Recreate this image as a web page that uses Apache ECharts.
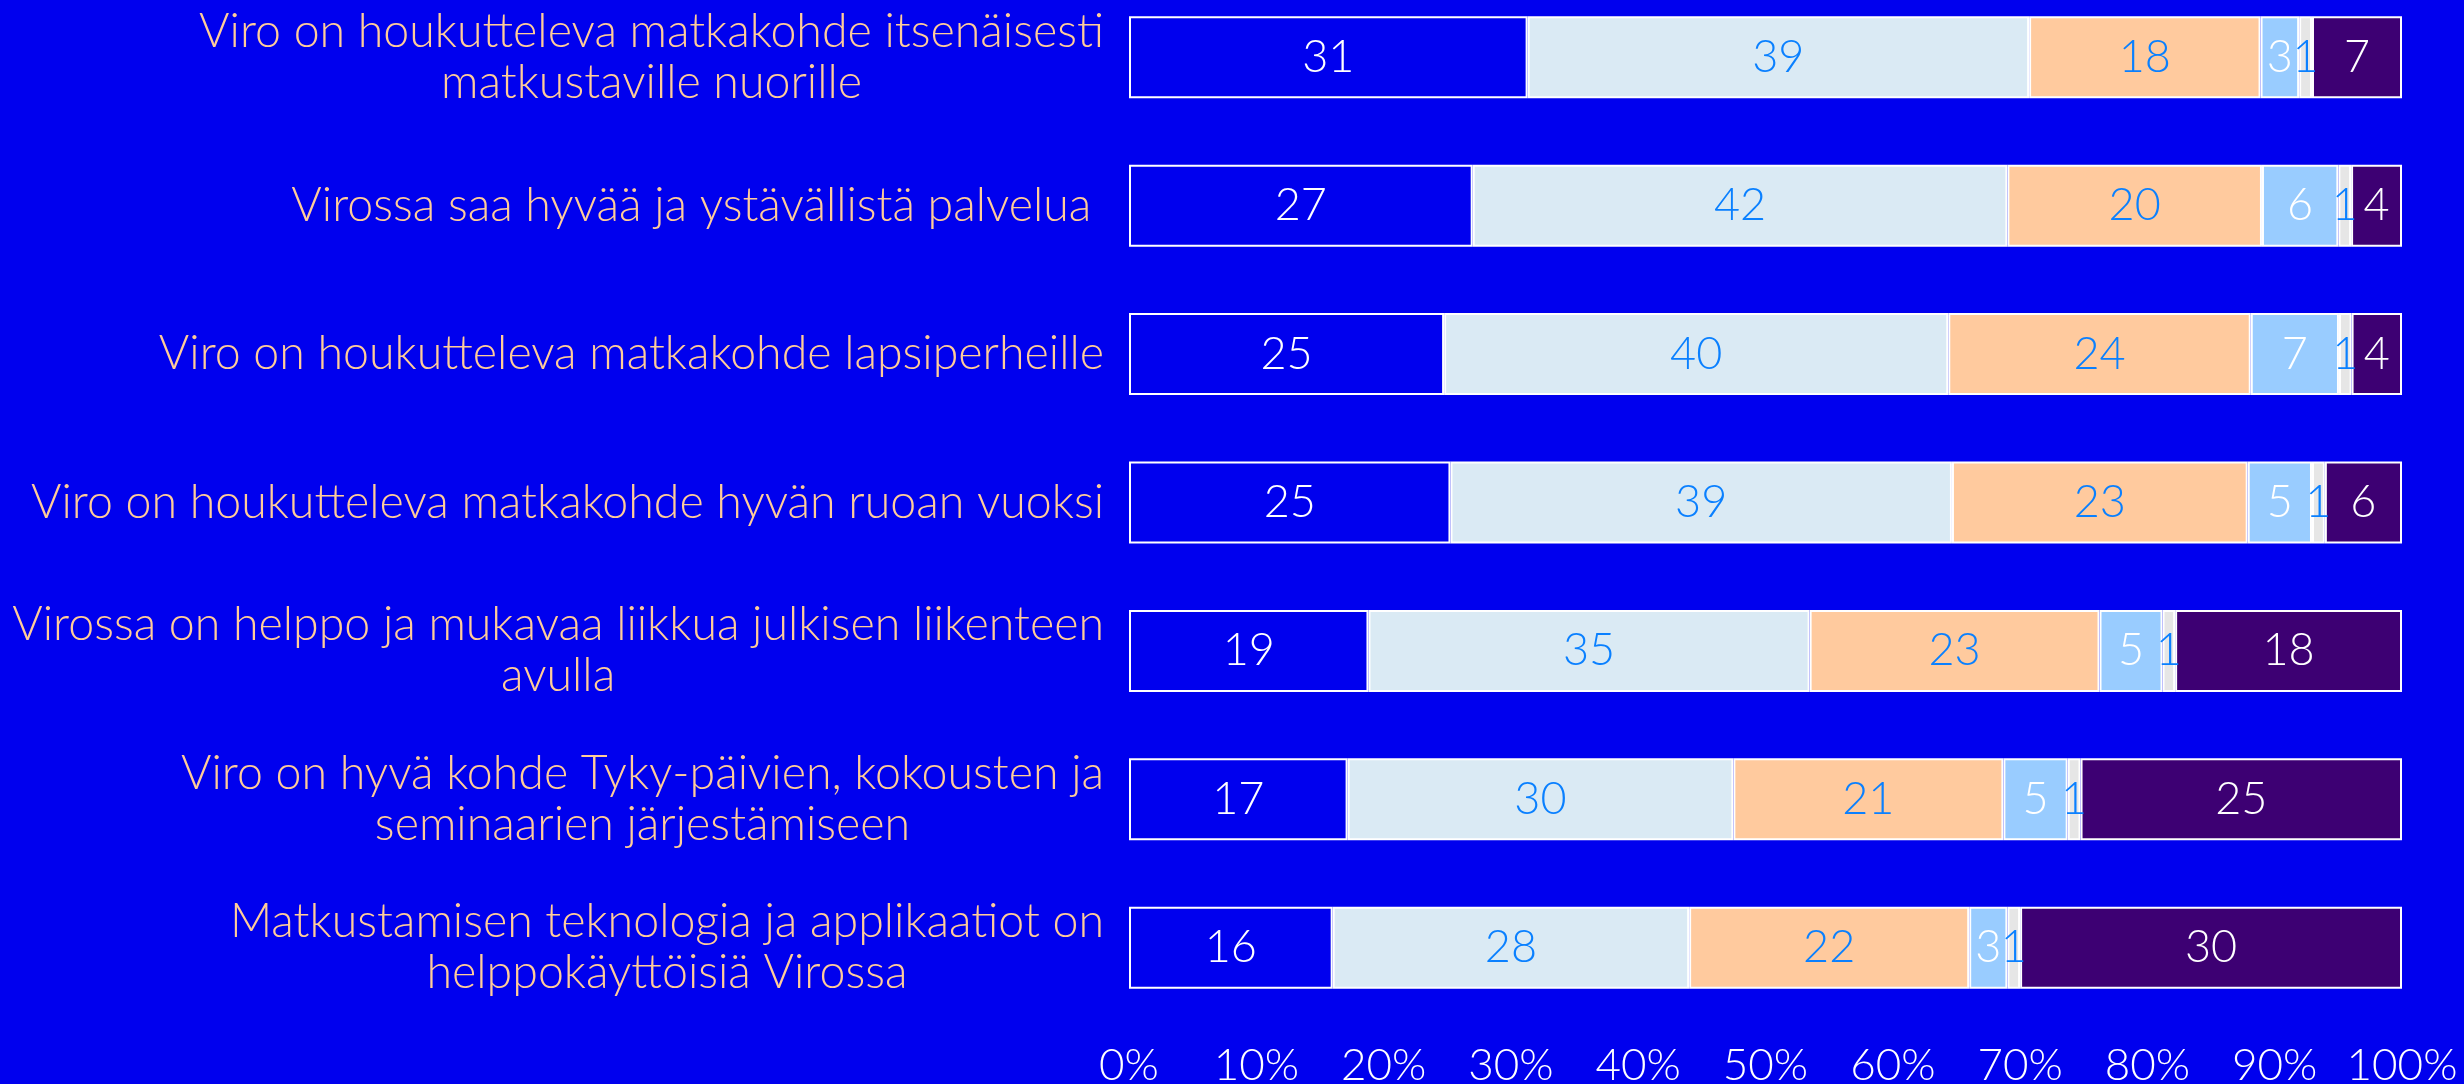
<!DOCTYPE html>
<html>
<head>
<meta charset="utf-8">
<script src="https://cdn.jsdelivr.net/npm/echarts@6/dist/echarts.min.js"></script>
<style>
  html, body { margin: 0; padding: 0; background: #0000EE; }
  #chart { width: 2464px; height: 1084px; }
</style>
</head>
<body>
<div id="chart"></div>
<script>
const categories = [
  "Viro on houkutteleva matkakohde itsenäisesti\nmatkustaville nuorille",
  "Virossa saa hyvää ja ystävällistä palvelua ",
  "Viro on houkutteleva matkakohde lapsiperheille",
  "Viro on houkutteleva matkakohde hyvän ruoan vuoksi",
  "Virossa on helppo ja mukavaa liikkua julkisen liikenteen\navulla",
  "Viro on hyvä kohde Tyky-päivien, kokousten ja\nseminaarien järjestämiseen",
  "Matkustamisen teknologia ja applikaatiot on\nhelppokäyttöisiä Virossa"
];
const series1 = [31, 27, 25, 25, 19, 17, 16];
const series2 = [39, 42, 40, 39, 35, 30, 28];
const series3 = [18, 20, 24, 23, 23, 21, 22];
const series4 = [3, 6, 7, 5, 5, 5, 3];
const series5 = [1, 1, 1, 1, 1, 1, 1];
const series6 = [7, 4, 4, 6, 18, 25, 30];
const xTickLabels = ["0%", "10%", "20%", "30%", "40%", "50%", "60%", "70%", "80%", "90%", "100%"];

const allSeries = [series1, series2, series3, series4, series5, series6];
const colors = ["#0000EE", "#DAEAF4", "#FFCA9E", "#99CCFF", "#E6E6E6", "#3D0073"];
const labelColors = ["#FFFFFF", "#0A80FF", "#0A80FF", "#FFFFFF", "#0A80FF", "#FFFFFF"];
const totals = categories.map((c, i) => allSeries.reduce((s, arr) => s + arr[i], 0));

const FONT = "Lato, 'Open Sans', sans-serif";

const chart = echarts.init(document.getElementById('chart'), null, { renderer: 'canvas' });
chart.setOption({
  backgroundColor: "#0000EE",
  animation: false,
  grid: { left: 1129, right: 62, top: -17, height: 1039, containLabel: false, outerBoundsMode: 'none' },
  xAxis: {
    type: 'value',
    min: 0, max: 100, interval: 10,
    axisLine: { show: false },
    axisTick: { show: false },
    splitLine: { show: false },
    axisLabel: {
      color: "#FFFFFF",
      fontFamily: FONT,
      fontWeight: 300,
      fontSize: 44,
      margin: 22,
      formatter: (v) => xTickLabels[Math.round(v / 10)]
    }
  },
  yAxis: {
    type: 'category',
    inverse: true,
    data: categories,
    axisLine: { show: false },
    axisTick: { show: false },
    splitLine: { show: false },
    axisLabel: {
      margin: 25,
      color: "#FFCC99",
      fontFamily: FONT,
      fontWeight: 300,
      fontSize: 46.5,
      lineHeight: 51,
      formatter: (v) => v.split('\n').map(l => '{c|' + l + '}').join('\n'),
      rich: {
        c: { align: 'center', color: "#FFCC99", fontFamily: FONT, fontWeight: 300, fontSize: 46.5, lineHeight: 51 }
      }
    }
  },
  series: allSeries.map((arr, si) => ({
    type: 'bar',
    stack: 'total',
    barWidth: 82,
    itemStyle: { color: colors[si], borderColor: "#FFFFFF", borderWidth: 2 },
    label: {
      show: true,
      position: 'inside',
      color: labelColors[si],
      fontFamily: FONT,
      fontWeight: 300,
      fontSize: 45,
      formatter: (p) => String(p.data.raw)
    },
    data: arr.map((v, i) => ({ value: v / totals[i] * 100, raw: v }))
  }))
});
</script>
</body>
</html>
